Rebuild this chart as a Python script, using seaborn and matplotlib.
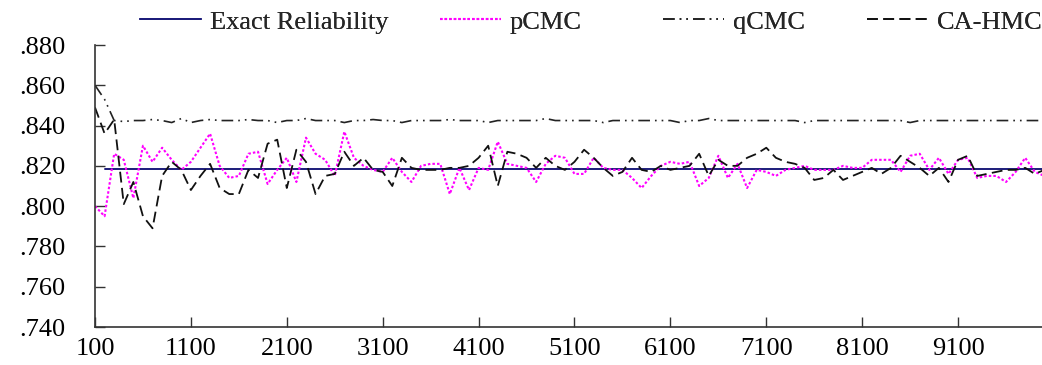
import numpy as np
import pandas as pd
import matplotlib
matplotlib.use("Agg")
import matplotlib.pyplot as plt
import seaborn as sns
from matplotlib.ticker import FuncFormatter

# ---------------- data ----------------
x_values = list(range(100, 10001, 100))

exact_reliability = 0.8185

pcmc = [0.800, 0.795, 0.826, 0.823, 0.804, 0.830, 0.822, 0.829, 0.823, 0.818,
        0.822, 0.829, 0.836, 0.820, 0.814, 0.815, 0.826, 0.827, 0.811, 0.818,
        0.824, 0.812, 0.834, 0.826, 0.823, 0.815, 0.837, 0.824, 0.820, 0.818,
        0.817, 0.824, 0.817, 0.812, 0.820, 0.821, 0.821, 0.806, 0.819, 0.808,
        0.819, 0.818, 0.832, 0.821, 0.820, 0.819, 0.812, 0.821, 0.825, 0.824,
        0.816, 0.816, 0.824, 0.819, 0.818, 0.818, 0.814, 0.809, 0.815, 0.820,
        0.822, 0.821, 0.822, 0.810, 0.814, 0.825, 0.814, 0.821, 0.809, 0.818,
        0.817, 0.815, 0.818, 0.819, 0.820, 0.818, 0.818, 0.818, 0.820, 0.819,
        0.819, 0.823, 0.823, 0.823, 0.817, 0.825, 0.826, 0.818, 0.824, 0.816,
        0.823, 0.824, 0.814, 0.815, 0.815, 0.812, 0.817, 0.824, 0.817, 0.815]

qcmc = [0.860, 0.853, 0.8425, 0.842, 0.8425, 0.8425, 0.843, 0.8425, 0.8415, 0.8435,
        0.8415, 0.8425, 0.843, 0.8425, 0.8425, 0.8425, 0.843, 0.8425, 0.8425, 0.8415,
        0.8425, 0.8425, 0.8435, 0.8425, 0.8425, 0.8425, 0.8415, 0.8425, 0.8425, 0.843,
        0.8425, 0.8425, 0.8415, 0.8425, 0.8425, 0.8425, 0.8425, 0.843, 0.8425, 0.8425,
        0.8425, 0.8415, 0.8425, 0.8425, 0.8425, 0.8425, 0.8425, 0.8435, 0.8425, 0.8425,
        0.8425, 0.8425, 0.8425, 0.8415, 0.8425, 0.8425, 0.8425, 0.8425, 0.8425, 0.8425,
        0.8425, 0.8415, 0.8425, 0.8425, 0.8435, 0.8425, 0.8425, 0.8425, 0.8425, 0.8425,
        0.8425, 0.8425, 0.8425, 0.8425, 0.8415, 0.8425, 0.8425, 0.8425, 0.8425, 0.8425,
        0.8425, 0.8425, 0.8425, 0.8425, 0.8425, 0.8415, 0.8425, 0.8425, 0.8425, 0.8425,
        0.8425, 0.8425, 0.8425, 0.8425, 0.8425, 0.8425, 0.8425, 0.8425, 0.8425, 0.8425]

cahmc = [0.849, 0.836, 0.843, 0.801, 0.812, 0.795, 0.789, 0.815, 0.822, 0.818,
         0.808, 0.815, 0.821, 0.809, 0.806, 0.806, 0.818, 0.814, 0.831, 0.833,
         0.809, 0.828, 0.822, 0.806, 0.815, 0.816, 0.827, 0.820, 0.824, 0.818,
         0.817, 0.810, 0.824, 0.819, 0.818, 0.818, 0.818, 0.819, 0.819, 0.820,
         0.824, 0.830, 0.810, 0.827, 0.826, 0.824, 0.819, 0.824, 0.820, 0.818,
         0.822, 0.828, 0.824, 0.819, 0.815, 0.817, 0.824, 0.818, 0.817, 0.820,
         0.818, 0.819, 0.820, 0.826, 0.815, 0.823, 0.820, 0.820, 0.824, 0.826,
         0.829, 0.824, 0.822, 0.821, 0.819, 0.813, 0.814, 0.818, 0.813, 0.815,
         0.817, 0.819, 0.816, 0.819, 0.825, 0.822, 0.819, 0.815, 0.819, 0.812,
         0.823, 0.825, 0.815, 0.816, 0.817, 0.818, 0.818, 0.819, 0.816, 0.818]

y_ticks = [0.74, 0.76, 0.78, 0.80, 0.82, 0.84, 0.86, 0.88]
x_ticks = [100, 1100, 2100, 3100, 4100, 5100, 6100, 7100, 8100, 9100]

# ---------------- plotting ----------------
sns.set_style("ticks")
plt.rcParams['font.family'] = ['Liberation Serif', 'DejaVu Serif']
FS = 19

W, H = 1042, 365
fig = plt.figure(figsize=(W / 100, H / 100), dpi=100)
ax = fig.add_axes([95 / W, 38 / H, (W - 95) / W, 282 / H])

exact_x = x_values[1:]
exact_y = [exact_reliability] * len(exact_x)

sns.lineplot(x=exact_x, y=exact_y, ax=ax, color='#1c1c7a', linewidth=1.4,
             label='Exact Reliability')
sns.lineplot(x=x_values, y=pcmc, ax=ax, color='#ff00ff', linewidth=1.5,
             linestyle=(0, (1.2, 1.0)), label='pCMC')
sns.lineplot(x=x_values, y=qcmc, ax=ax, color='#222222', linewidth=1.2,
             linestyle=(0, (7, 3, 1, 3, 1, 3)), label='qCMC')
sns.lineplot(x=x_values, y=cahmc, ax=ax, color='#111111', linewidth=1.3,
             linestyle=(0, (6, 3)), label='CA-HMC')

ax.set_xlim(100, 9975)
ax.set_ylim(0.74, 0.88)
ax.set_xticks(x_ticks)
ax.set_yticks(y_ticks)
ax.yaxis.set_major_formatter(FuncFormatter(lambda v, p: f"{v:.3f}".lstrip('0')))
ax.xaxis.set_major_formatter(FuncFormatter(lambda v, p: f"{int(round(v))}"))
ax.tick_params(axis='both', direction='in', length=7, width=1, colors='#333333',
               labelsize=FS, labelcolor='black')
ax.tick_params(axis='y', pad=21)
ax.tick_params(axis='x', pad=8)
ax.set_xlabel('')
ax.set_ylabel('')
for s in ['top', 'right']:
    ax.spines[s].set_visible(False)
for s in ['left', 'bottom']:
    ax.spines[s].set_color('#333333')
    ax.spines[s].set_linewidth(1.2)

handles, labels = ax.get_legend_handles_labels()
ax.get_legend().remove()
legend_x = [140, 440, 663, 867]
for h, lab, lx in zip(handles, labels, legend_x):
    leg = fig.legend([h], [lab], loc='center left', bbox_to_anchor=(lx / W, 1 - 22 / H),
                     frameon=False, fontsize=FS, handlelength=2.3, handletextpad=0.35,
                     borderaxespad=0, borderpad=0)
    fig.add_artist(leg)

fig.savefig('out.png', dpi=100)
